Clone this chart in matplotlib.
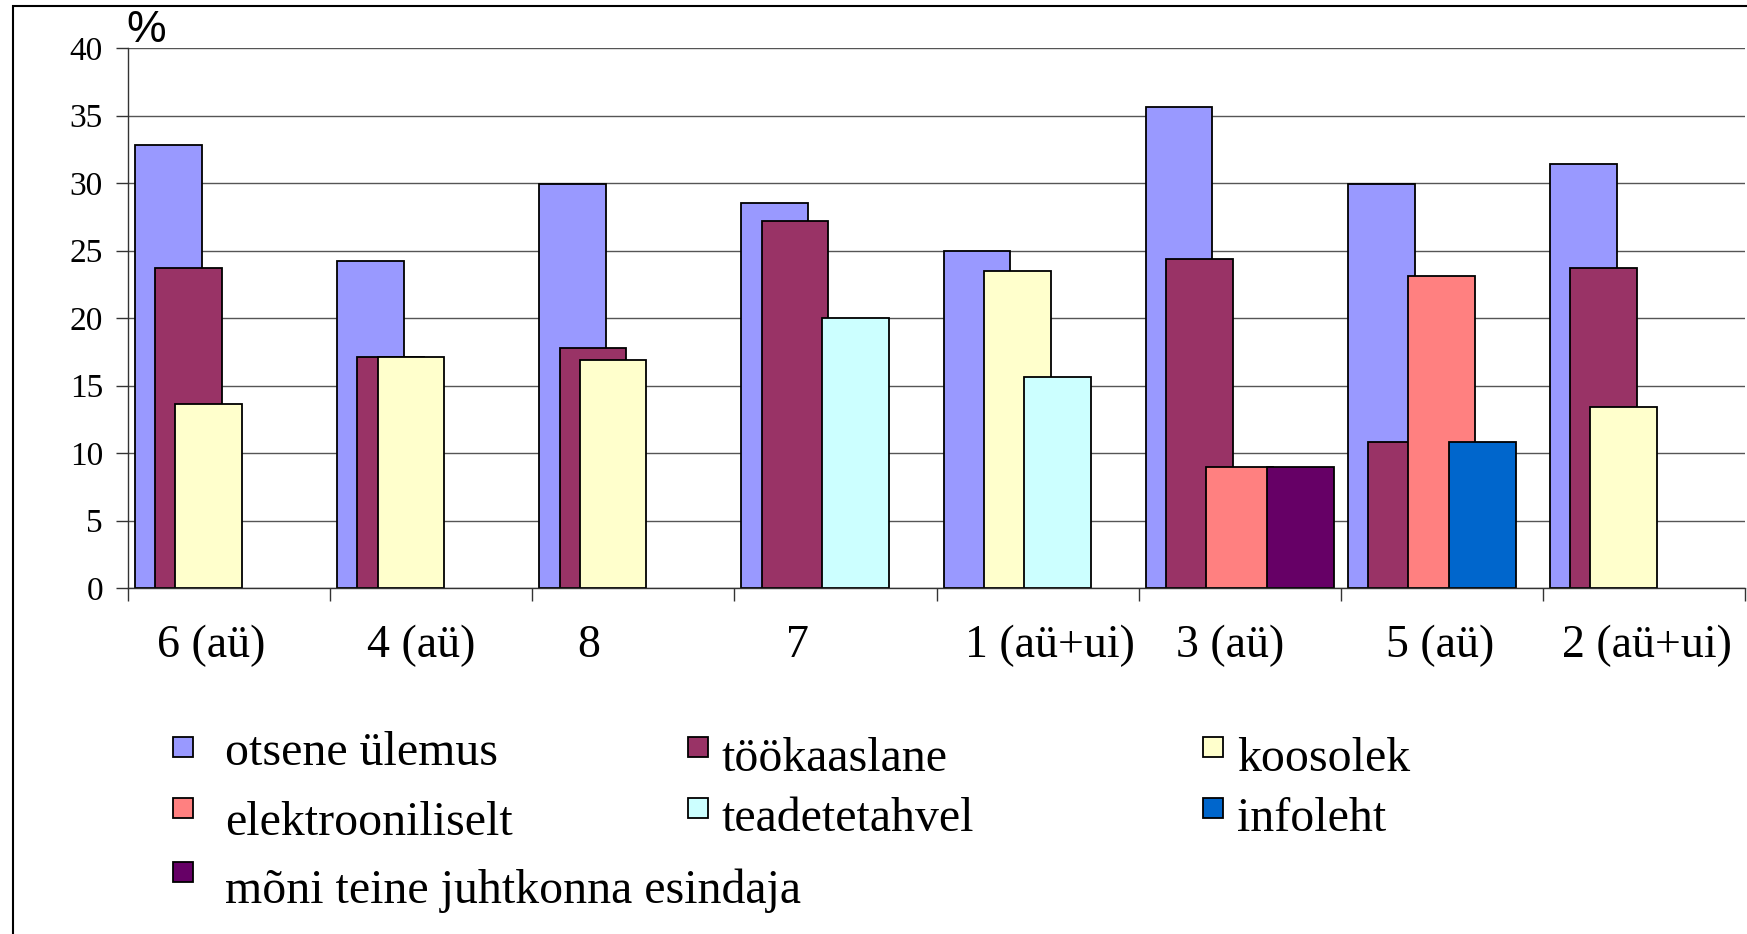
import numpy as np
import matplotlib.pyplot as plt
from matplotlib.patches import Rectangle
from matplotlib.transforms import ScaledTranslation

plt.rcParams['font.family'] = ['Liberation Serif', 'DejaVu Serif']

groups = ["6 (aü)", "4 (aü)", "8", "7", "1 (aü+ui)", "3 (aü)", "5 (aü)", "2 (aü+ui)"]
series_names = ["otsene ülemus", "töökaaslane", "koosolek",
                "elektrooniliselt", "teadetetahvel", "infoleht",
                "mõni teine juhtkonna esindaja"]

# % of answers per unit, one list per information channel
otsene_ylemus = [32.8, 24.2, 29.9, 28.5, 25.0, 35.6, 29.9, 31.4]
tookaaslane = [23.7, 17.1, 17.8, 27.2, 0, 24.4, 10.8, 23.7]
koosolek = [13.6, 17.1, 16.9, 0, 23.5, 0, 0, 13.4]
elektrooniliselt = [0, 0, 0, 0, 0, 9.0, 23.1, 0]
teadetetahvel = [0, 0, 0, 20.0, 15.6, 0, 0, 0]
infoleht = [0, 0, 0, 0, 0, 0, 10.8, 0]
moni_teine = [0, 0, 0, 0, 0, 9.0, 0, 0]

all_series = [otsene_ylemus, tookaaslane, koosolek, elektrooniliselt,
              teadetetahvel, infoleht, moni_teine]
colors = ["#9999FF", "#993366", "#FFFFCC", "#FF8080", "#CCFFFF", "#0066CC", "#660066"]

W, H = 1747, 934
fig = plt.figure(figsize=(W / 100, H / 100), dpi=100)
ax = fig.add_axes([128 / W, 1 - 588 / H, 1617 / W, 540 / H])

# overlapping clustered bars, excel style
width = 0.33
step = 0.1
x = np.arange(len(groups))
for i, vals in enumerate(all_series):
    vals = np.array(vals, dtype=float)
    keep = vals > 0
    left = x - 0.465 + i * step
    ax.bar(left[keep], vals[keep], width=width, align='edge',
           color=colors[i], edgecolor='black', linewidth=1.3)

ax.set_xlim(-0.5, len(groups) - 0.5)
ax.set_ylim(0, 40)
ax.set_yticks(np.arange(0, 41, 5))
ax.yaxis.grid(True, color='#555555', linewidth=1)
ax.set_axisbelow(True)

for s in ['top', 'right']:
    ax.spines[s].set_visible(False)
for s in ['left', 'bottom']:
    ax.spines[s].set_color('#333333')
    ax.spines[s].set_linewidth(1)

ax.tick_params(axis='y', direction='out', length=9, width=1, color='#333333',
               labelsize=24, pad=9)
ax.set_xticks(x)
ax.set_xticklabels(groups, fontsize=33)
ax.set_xticks(np.arange(-0.5, len(groups)), minor=True)
ax.tick_params(axis='x', which='major', length=0, pad=26)
ax.tick_params(axis='x', which='minor', direction='out', length=9, width=1, color='#333333')

# small sideways shifts of the category labels (pixels)
nudges = [-18, -10, -45, -38, 12, -10, -2, 3]
for lab, dx in zip(ax.get_xticklabels(), nudges):
    lab.set_transform(lab.get_transform() + ScaledTranslation(dx / 100, 0, fig.dpi_scale_trans))

fig.text(126 / W, 1 - 42 / H, "%", family=['Liberation Sans', 'DejaVu Sans'],
         fontsize=32, va='baseline')

# legend, three columns laid out row by row
marker_x = [173, 688, 1203]
text_x = [225, 722, 1237]
marker_top = [737, 798, 862]
baselines = [[765, 835, 903], [771, 831], [771, 831]]
for i, name in enumerate(series_names):
    row, col = divmod(i, 3)
    fig.add_artist(Rectangle((marker_x[col] / W, 1 - (marker_top[row] + 20) / H),
                             20 / W, 20 / H, transform=fig.transFigure,
                             facecolor=colors[i], edgecolor='black', linewidth=1.3))
    fig.text(text_x[col] / W, 1 - baselines[col][row] / H, name,
             fontsize=34.5, va='baseline')

# frame around the chart area
fig.add_artist(Rectangle((13 / W, -0.1), 1.2, 1.1 - 6 / H, transform=fig.transFigure,
                         fill=False, edgecolor='black', linewidth=1.5))

fig.savefig('out.png', dpi=100)
